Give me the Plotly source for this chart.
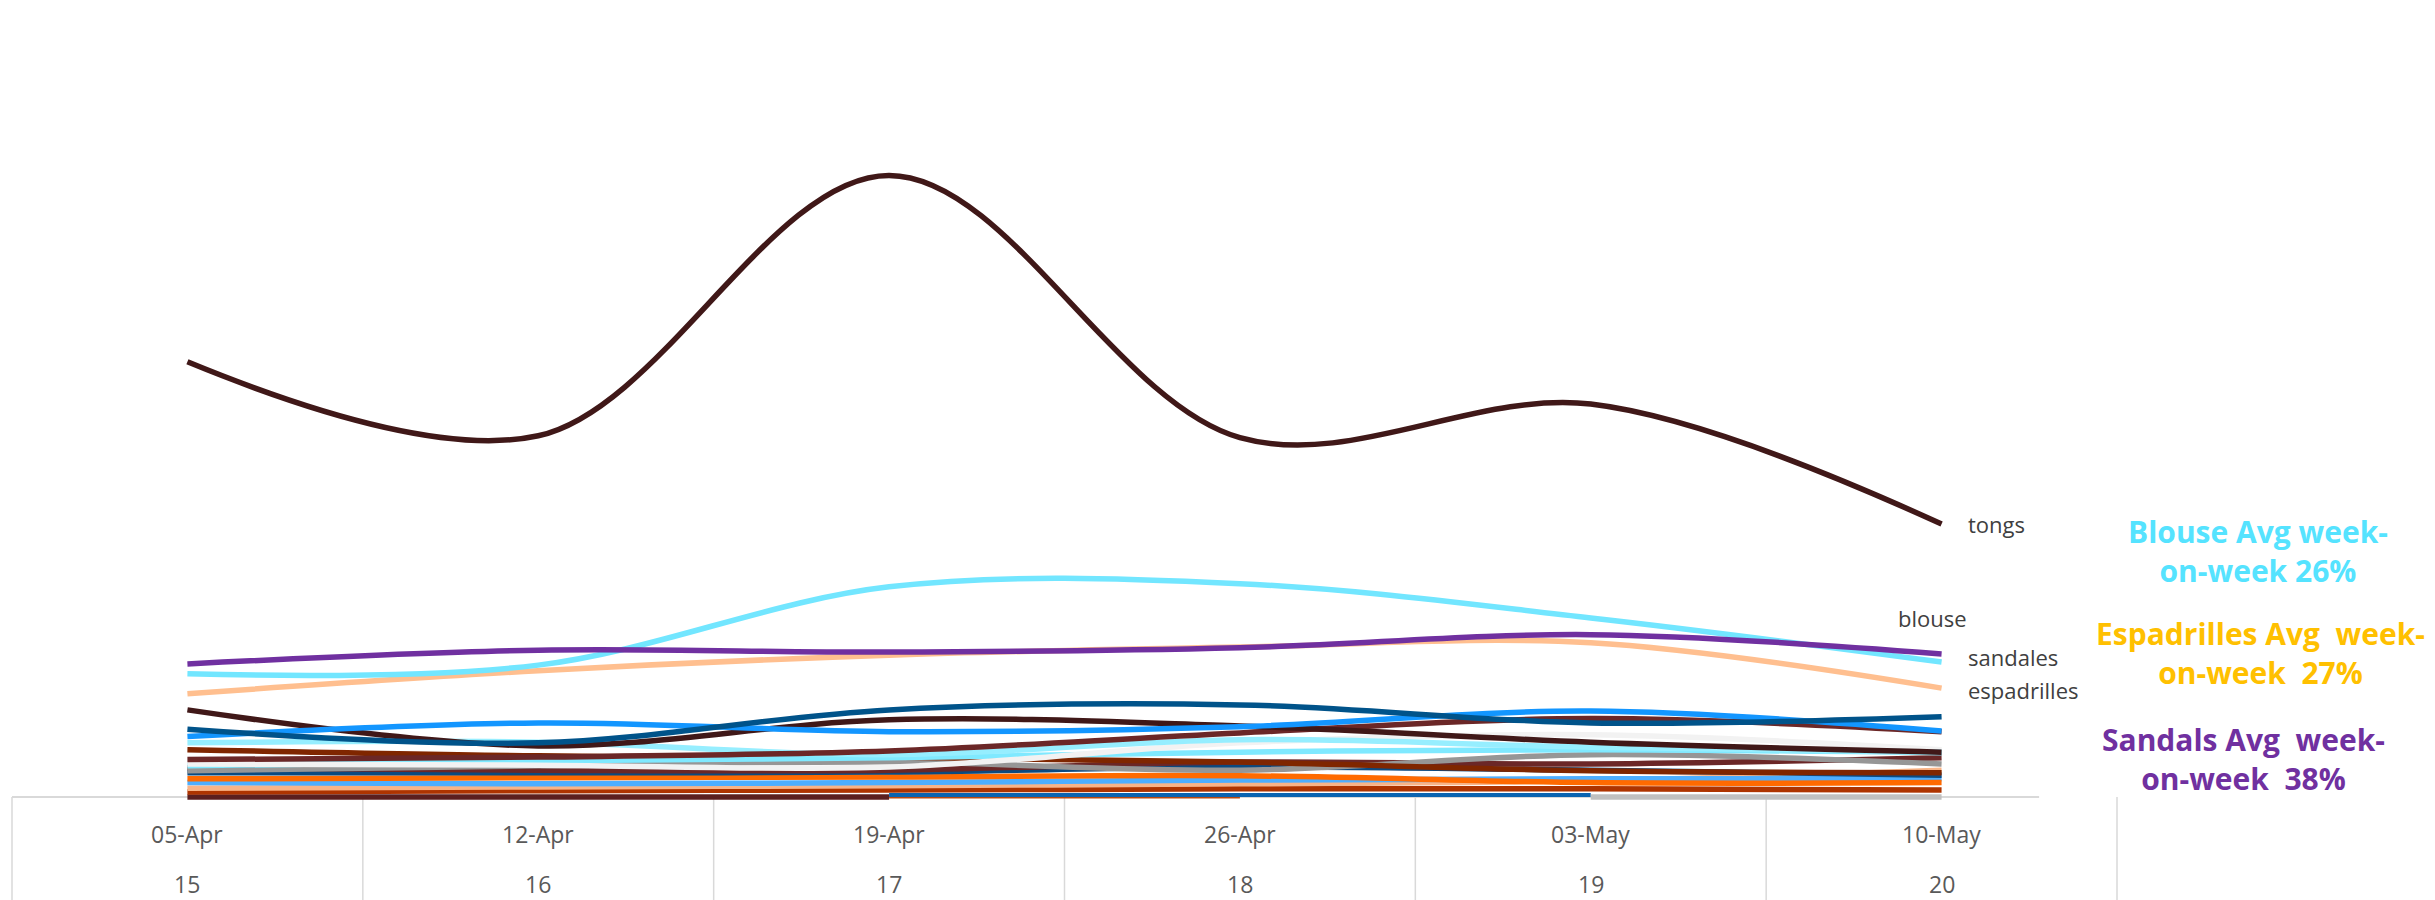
import plotly.graph_objects as go

# Week axis: date label and ISO week number
dates = ["05-Apr", "12-Apr", "19-Apr", "26-Apr", "03-May", "10-May"]
week_numbers = ["15", "16", "17", "18", "19", "20"]

# Main search-interest series
tongs = [70.0, 58.1, 100.0, 57.8, 63.2, 43.9]
blouse = [19.8, 21.2, 33.8, 34.3, 28.8, 21.7]
sandales = [21.4, 23.6, 23.3, 24.0, 26.1, 23.0]
espadrilles = [16.6, 20.3, 22.8, 24.1, 24.8, 17.5]

# Remaining low-volume series
other_01 = [14.0, 8.2, 12.4, 11.4, 8.8, 7.2]
other_02 = [6.0, 6.4, 7.4, 10.3, 12.6, 10.5]
other_03 = [10.9, 8.7, 14.0, 14.8, 11.9, 12.9]
other_04 = [9.7, 11.9, 10.5, 11.3, 13.8, 10.6]
other_05 = [8.7, 8.8, 6.8, 9.2, 8.0, 7.2]
other_06 = [5.3, 5.1, 4.8, 8.7, 10.0, 7.6]
other_07 = [5.0, 5.8, 6.3, 7.2, 7.6, 7.1]
other_08 = [7.6, 6.6, 6.4, 5.6, 4.2, 3.9]
other_09 = [4.2, 5.0, 5.6, 4.3, 6.8, 5.3]
other_10 = [3.9, 3.9, 4.0, 4.8, 4.3, 3.5]
other_11 = [4.7, 4.3, 4.3, 5.6, 5.3, 6.3]
other_12 = [2.9, 3.1, 3.2, 3.4, 2.3, 2.3]
other_13 = [2.3, 2.1, 2.3, 2.7, 2.9, 2.9]
other_14 = [1.4, 1.6, 1.8, 2.1, 2.6, 4.3]
other_15 = [0.8, 1.0, 1.1, 1.3, 1.3, 1.1]
other_16 = [0.0, 0.0, 0.0, None, None, None]
other_17 = [None, None, 0.0, 0.0, None, None]
other_18 = [None, None, 0.3, 0.3, 0.3, None]
other_19 = [None, None, None, None, 0.0, 0.0]

# Average week-on-week growth callouts
callouts = [
    ("Blouse Avg week-<br>on-week 26%", "#55E3FF"),
    ("Espadrilles Avg\u00a0\u00a0week-<br>on-week\u00a0\u00a027%", "#FFC000"),
    ("Sandals Avg\u00a0\u00a0week-<br>on-week\u00a0\u00a038%", "#7030A0"),
]

FONT = "Segoe UI, Open Sans, sans-serif"
LINE_W = 5.5

background_series = [
    (other_16, "#5B1F1F", LINE_W),
    (other_17, "#B8480F", 3),
    (other_18, "#0A63B0", 4),
    (other_19, "#C0C0C0", LINE_W),
    (other_15, "#AE3400", LINE_W),
    (other_14, "#F9B487", LINE_W),
    (other_13, "#4DAEFF", LINE_W),
    (other_12, "#FF6A00", LINE_W),
    (other_10, "#0B4A80", LINE_W),
    (other_11, "#6B2727", LINE_W),
    (other_09, "#969696", LINE_W),
    (other_08, "#7F2600", LINE_W),
    (other_07, "#7FE9FF", LINE_W),
    (other_06, "#F2F2F2", LINE_W),
    (other_05, "#96EEFF", LINE_W),
    (other_02, "#6B2727", LINE_W),
    (other_01, "#401818", LINE_W),
    (other_04, "#1396FF", LINE_W),
    (other_03, "#00538A", LINE_W),
]

fig = go.Figure()

for values, color, width in background_series:
    fig.add_trace(go.Scatter(
        x=dates, y=values, mode="lines",
        line=dict(color=color, width=width, shape="spline", smoothing=1),
        connectgaps=False, hoverinfo="skip", showlegend=False,
    ))

main_series = [
    ("espadrilles", espadrilles, "#FFBF8F"),
    ("blouse", blouse, "#72E6FF"),
    ("sandales", sandales, "#7030A0"),
    ("tongs", tongs, "#401818"),
]
for name, values, color in main_series:
    fig.add_trace(go.Scatter(
        x=dates, y=values, mode="lines", name=name,
        line=dict(color=color, width=LINE_W, shape="spline", smoothing=1),
        showlegend=False,
    ))

# Series names at the end of each main line
label_offsets = {
    "tongs": (24, 0),
    "blouse": (-46, 44),
    "sandales": (24, -3),
    "espadrilles": (24, -2),
}
for name, values, _ in main_series:
    dx, dy = label_offsets[name]
    fig.add_annotation(
        x=dates[-1], y=values[-1], xref="x", yref="y",
        text=name, showarrow=False, xanchor="left", yanchor="middle",
        xshift=dx, yshift=dy,
        font=dict(family=FONT, size=22, color="#404040"),
    )

# Two-level category axis drawn as a table
n = len(dates)
for d, w in zip(dates, week_numbers):
    fig.add_annotation(x=d, y=-0.0436, xref="x", yref="paper", text=d,
                       showarrow=False, yanchor="middle",
                       font=dict(family=FONT, size=23, color="#595959"))
    fig.add_annotation(x=d, y=-0.108, xref="x", yref="paper", text=w,
                       showarrow=False, yanchor="middle",
                       font=dict(family=FONT, size=23, color="#595959"))

grid_color = "#D9D9D9"
fig.add_shape(type="line", xref="paper", yref="paper",
              x0=0, x1=0.963, y0=0.0038, y1=0.0038,
              line=dict(color=grid_color, width=2), layer="below")
for k in range(n + 1):
    xp = k / n
    fig.add_shape(type="line", xref="paper", yref="paper",
                  x0=xp, x1=xp, y0=0.0038, y1=-0.13,
                  line=dict(color=grid_color, width=1.5), layer="below")

callout_pos = [(1.067, 0.319), (1.068, 0.189), (1.060, 0.052)]
for (text, color), (xp, yp) in zip(callouts, callout_pos):
    fig.add_annotation(x=xp, y=yp, xref="paper", yref="paper", text=f"<b>{text}</b>",
                       showarrow=False, xanchor="center", yanchor="middle", align="center",
                       font=dict(family=FONT, size=30, color=color))

fig.update_layout(
    width=2435, height=900,
    margin=dict(l=12, r=318, t=20, b=100),
    paper_bgcolor="white", plot_bgcolor="white",
    showlegend=False,
    xaxis=dict(type="category", range=[-0.5, n - 0.5], showgrid=False, zeroline=False,
               showticklabels=False, showline=False, ticks=""),
    yaxis=dict(range=[-0.5, 125], showgrid=False, zeroline=False,
               showticklabels=False, showline=False, ticks=""),
)

fig.write_html("out.html")
